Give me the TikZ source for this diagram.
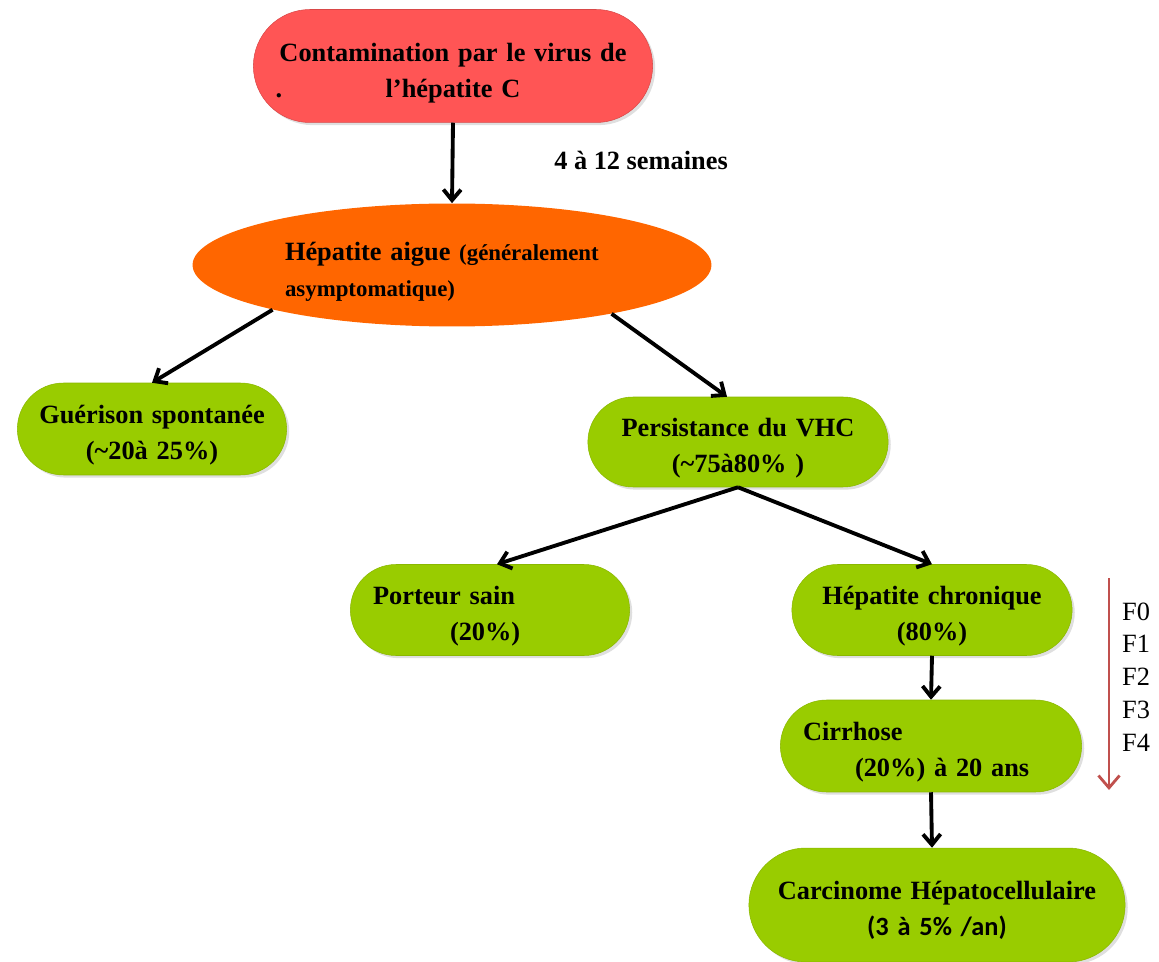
\documentclass[tikz,border=0pt]{standalone}
\usepackage{fontspec}
\setmainfont{Liberation Serif}
\newfontfamily\calibri{Carlito}
\usepackage{xcolor}
\usetikzlibrary{shapes.misc,shapes.geometric,shadows,arrows.meta}
\definecolor{hcvred}{HTML}{FF5555}
\definecolor{hcvorange}{HTML}{FF6600}
\definecolor{hcvgreen}{HTML}{99CC00}
\definecolor{stagered}{HTML}{C0504D}

\begin{document}
\begin{tikzpicture}[x=0.02cm, y=-0.02cm,
        every node/.style={font=\fontsize{15}{20.5}\selectfont\bfseries},
        pill/.style={rounded rectangle, fill=hcvgreen, draw=hcvgreen!90!black, line width=0.3pt,
            drop shadow={opacity=0.25, shadow xshift=1.5pt, shadow yshift=-1.5pt},
            align=center, text depth=0.6cm},
        arr/.style={-{Straight Barb[length=6pt, width=10pt]}, line width=2.2pt}]
        \useasboundingbox (0,0) rectangle (1159,962);

        \node [rounded rectangle, fill=hcvred, draw=hcvred!85!black, line width=0.3pt,
            drop shadow={opacity=0.25, shadow xshift=1.5pt, shadow yshift=-1.5pt},
            minimum width=8.22cm, minimum height=2.26cm, text width=7.3cm, align=center,
            text depth=0.56cm] (contamination) at (453,66) {Contamination par le virus de\\
            \makebox[7.1cm]{\rlap{.}\hfill l’hépatite C\hfill}};

        \node [ellipse, fill=hcvorange, minimum width=10.38cm, minimum height=2.46cm,
            text width=6.68cm, align=left, text depth=0.55cm] (aigue) at (452,265)
            {Hépatite aigue {\fontsize{13}{18.5}\selectfont(généralement\\ asymptomatique)}};

        \node (semaines) at (641,160) {4 à 12 semaines};

        \node [pill, minimum width=5.62cm, minimum height=1.84cm, text width=4.8cm]
            (guerison) at (152,429) {Guérison spontanée\\ (\textasciitilde20à 25\%)};
        \node [pill, minimum width=6.24cm, minimum height=1.80cm, text width=5cm]
            (persistance) at (738,442) {Persistance du VHC\\ (\textasciitilde75à80\% )};
        \node [pill, minimum width=5.82cm, minimum height=1.82cm, text width=4.68cm, align=left]
            (porteur) at (490,610) {Porteur sain\\ \hspace*{1.54cm}(20\%)};
        \node [pill, minimum width=5.84cm, minimum height=1.82cm, text width=4.8cm]
            (chronique) at (932,610) {Hépatite chronique\\ (80\%)};
        \node [pill, minimum width=6.26cm, minimum height=1.84cm, text width=5.12cm, align=left]
            (cirrhose) at (931,746) {Cirrhose\\ \hspace*{1.04cm}(20\%) à 20 ans};
        \node [pill, minimum width=7.76cm, minimum height=2.28cm, text width=6.9cm]
            (carcinome) at (937,905) {Carcinome Hépatocellulaire\\ {\calibri\bfseries (3 à 5\% /an)}};

        \draw [arr] (contamination.south) -- (aigue.north);
        \draw [arr] (aigue.194) -- (guerison.north);
        \draw [arr] (aigue.343) -- ([xshift=-0.22cm]persistance.north);
        \draw [arr] (persistance.south) -- ([xshift=0.14cm]porteur.north);
        \draw [arr] (persistance.south) -- (chronique.north);
        \draw [arr] (chronique.south) -- (cirrhose.north);
        \draw [arr] (cirrhose.south) -- ([xshift=-0.1cm]carcinome.north);

        % stades de fibrose
        \coordinate (ftop) at (1109,578);
        \coordinate (fbottom) at (1109,790);
        \draw [-{Straight Barb[length=7pt, width=12pt]}, stagered, line width=1.6pt] (ftop) -- (fbottom);
        \node [font=\fontsize{15}{18.7}\selectfont, align=left] (fstages) at (1136,677)
            {F0\\ F1\\ F2\\ F3\\ F4};
    \end{tikzpicture}
\end{document}
